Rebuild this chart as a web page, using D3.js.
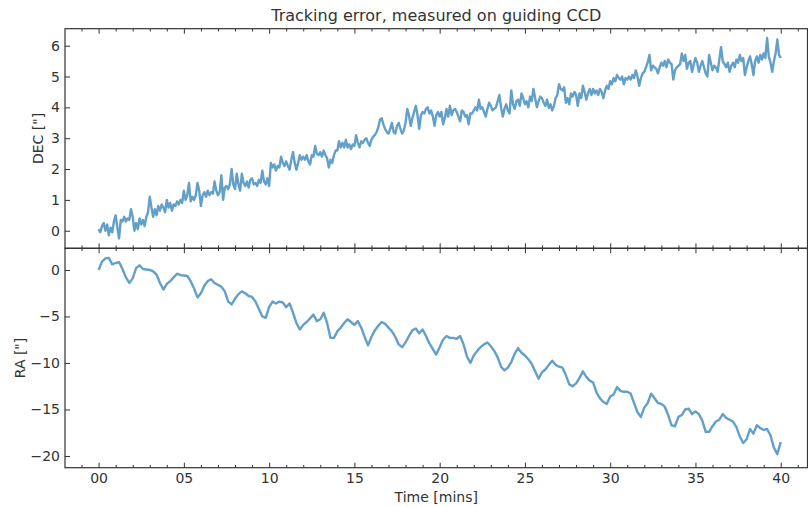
<!DOCTYPE html>
<html>
<head>
<meta charset="utf-8">
<script src="https://cdnjs.cloudflare.com/ajax/libs/d3/7.8.5/d3.min.js"></script>
<style>
    body { margin: 0; background: #fff; }
    svg text { font-family: "DejaVu Sans", sans-serif; fill: #333; }
</style>
</head>
<body>
<svg id="chart" width="808" height="507"></svg>
<script>
// sample spacing in minutes
var decStep = 0.1;
var raStep = 0.2;

// DEC ["], one row per minute (10 samples each), last value at 40.0
var decValues = [
    0.05, -0.05, 0.15, 0.25, 0.0, 0.2, -0.15, 0.1, -0.05, 0.3,
    0.5, 0.1, -0.25, 0.35, 0.3, 0.45, 0.3, 0.4, 0.35, 0.7,
    0.45, 0.0, 0.25, 0.05, 0.4, 0.2, 0.35, 0.15, 0.45, 0.6,
    1.1, 0.75, 0.45, 0.7, 0.5, 0.8, 0.65, 0.85, 0.75, 0.6,
    1.0, 0.75, 0.9, 0.65, 0.85, 0.8, 0.95, 0.85, 1.0, 0.9,
    1.3, 1.0, 1.15, 1.55, 0.95, 1.1, 1.0, 1.15, 1.55, 1.3,
    0.8, 1.15, 1.25, 1.1, 1.3, 1.15, 1.25, 1.2, 1.6, 1.3,
    1.15, 1.25, 1.8, 1.0, 1.4, 1.45, 1.35, 1.5, 2.0, 1.5,
    1.35, 1.85, 1.5, 1.3, 1.85, 1.55, 1.45, 1.6, 1.4, 1.65,
    1.7, 1.5, 1.55, 1.45, 1.65, 1.55, 1.95, 1.6, 1.5, 1.7,
    1.45, 2.2, 2.05, 2.15, 1.95, 2.1, 2.05, 2.4, 2.2, 2.1,
    2.25, 2.1, 1.98, 2.3, 2.55, 2.2, 1.98, 2.2, 2.45, 2.3,
    2.4, 2.3, 2.45, 2.25, 2.15, 2.45, 2.4, 2.75, 2.5, 2.45,
    2.55, 2.4, 2.6, 2.45, 2.35, 2.05, 2.3, 2.2, 2.45, 2.6,
    2.6, 2.9, 2.7, 2.85, 2.7, 2.95, 2.7, 2.8, 2.65, 2.8,
    2.75, 3.1, 2.85, 2.7, 2.9, 2.85, 2.95, 3.0, 2.85, 2.75,
    2.95, 3.05, 3.1, 3.2, 3.35, 3.6, 3.65, 3.45, 3.3, 3.2,
    3.15, 3.3, 3.5, 3.2, 3.15, 3.4, 3.5, 3.3, 3.15, 3.25,
    3.5, 3.95, 3.75, 3.4, 3.65, 3.85, 4.05, 3.75, 3.3, 3.75,
    3.85, 3.8, 3.95, 4.0, 3.8, 3.9, 3.7, 3.4, 3.75, 3.85,
    3.7, 3.85, 3.45, 3.65, 3.95, 3.7, 4.05, 3.75, 3.9, 3.95,
    3.85, 3.7, 3.55, 3.9, 3.85, 3.7, 3.75, 3.45, 3.8, 3.8,
    3.9, 4.0, 3.9, 4.25, 3.95, 4.0, 3.85, 3.7, 3.95, 4.15,
    4.05, 3.9, 3.95, 4.0, 4.2, 4.4, 4.0, 3.7, 3.95, 4.1,
    3.9, 3.8, 4.55, 4.1, 3.95, 4.2, 4.25, 4.05, 4.45, 4.3,
    4.1, 4.2, 4.0, 4.35, 4.2, 4.6, 4.3, 4.0, 4.2, 4.35,
    4.3, 4.15, 4.05, 4.25, 3.98, 4.1, 3.9, 4.05, 4.3, 4.4,
    4.75, 4.6, 4.55, 4.65, 4.15, 4.3, 4.1, 4.45, 4.35, 4.5,
    4.4, 4.05, 4.45, 4.3, 4.7, 4.5, 4.25, 4.45, 4.6, 4.4,
    4.6, 4.45, 4.55, 4.4, 4.6, 4.5, 4.3, 4.55, 4.7, 4.6,
    4.85, 4.75, 4.95, 4.85, 5.05, 4.95, 4.9, 5.0, 4.75, 4.95,
    4.9, 5.0, 4.9, 5.05, 4.95, 5.2, 5.0, 4.7, 4.95, 5.1,
    5.15, 5.3, 5.45, 5.7, 5.2, 5.35, 5.3, 5.25, 5.1, 5.3,
    5.45, 5.35, 5.5, 5.3, 5.55, 5.45, 5.4, 4.9, 5.2, 5.3,
    5.35, 5.4, 5.75, 5.5, 5.7, 5.25, 5.45, 5.5, 5.15, 5.4,
    5.6, 5.45, 5.15, 5.35, 5.5, 5.3, 5.1, 5.0, 5.7, 5.45,
    5.2, 5.35, 5.3, 5.15, 5.55, 5.95, 5.5, 5.4, 5.3, 5.45,
    5.15, 5.35, 5.45, 5.3, 5.55, 5.45, 5.7, 5.5, 5.6, 5.05,
    5.3, 5.5, 5.65, 5.4, 5.05, 5.5, 5.65, 5.45, 5.7, 5.55,
    5.75, 5.6, 6.25, 5.65, 5.45, 5.15, 5.5, 5.75, 6.2, 5.7,
    5.6
];

// RA ["], one row per minute (5 samples each), last value at 40.0
var raValues = [
    0.0, 0.9, 1.25, 1.3, 0.6,
    0.75, 0.85, 0.1, -0.8, -1.4,
    -0.9, 0.2, 0.5, 0.1, 0.05,
    0.0, -0.15, -0.5, -1.4, -2.1,
    -1.5, -1.2, -0.8, -0.4, -0.55,
    -0.6, -0.65, -1.2, -2.0, -2.95,
    -2.5, -1.7, -1.2, -1.0, -1.4,
    -1.6, -1.8, -2.3, -3.4, -3.7,
    -3.1, -2.6, -2.3, -2.5, -2.8,
    -2.9, -3.4, -4.2, -5.0, -5.15,
    -4.0, -3.4, -3.6, -3.4, -3.5,
    -4.0, -3.6, -4.6, -5.7, -6.4,
    -5.9, -5.6, -5.2, -4.8, -5.5,
    -5.3, -4.6, -5.7, -7.3, -7.3,
    -6.6, -6.2, -5.7, -5.3, -5.6,
    -5.9, -5.5, -6.2, -7.2, -8.1,
    -7.2, -6.5, -6.0, -5.6, -5.8,
    -6.2, -6.6, -7.2, -8.0, -8.3,
    -7.8, -7.1, -6.5, -6.3, -6.8,
    -6.4, -7.1, -7.9, -8.5, -9.1,
    -8.3, -7.5, -7.1, -7.3, -7.3,
    -7.4, -7.1, -8.0, -9.3, -10.0,
    -9.2, -8.7, -8.3, -8.0, -7.8,
    -8.2, -8.7, -9.4, -10.4, -10.8,
    -10.5, -9.9, -9.0, -8.4, -8.9,
    -9.2, -9.6, -10.1, -10.9, -11.7,
    -11.0, -10.7, -10.2, -9.75, -10.2,
    -10.4, -10.5, -11.3, -12.3, -12.5,
    -12.2, -11.6, -10.9, -11.5, -11.9,
    -12.1, -13.2, -13.8, -14.2, -14.4,
    -13.6, -13.4, -12.6, -13.0, -13.1,
    -13.1, -13.3, -14.3, -15.3, -15.8,
    -14.8, -14.3, -13.3, -13.8, -14.3,
    -14.4, -14.7, -15.6, -16.7, -16.8,
    -15.8, -15.6, -15.0, -14.9, -15.5,
    -15.2, -15.5, -16.2, -17.4, -17.4,
    -16.8, -16.3, -16.1, -15.5, -15.9,
    -16.1, -16.3, -16.9, -17.9, -18.6,
    -18.2, -17.1, -17.6, -16.7, -17.0,
    -17.2, -17.1, -17.8, -19.1, -19.8,
    -18.5
];

var xTicks = [0, 5, 10, 15, 20, 25, 30, 35, 40];
var xMinorTicks = d3.range(-1, 42).filter(function (d) { return d % 5 !== 0; });
var decTicks = [0, 1, 2, 3, 4, 5, 6];
var raTicks = [0, -5, -10, -15, -20];

var lineColor = "rgba(31,119,180,0.7)";
var axisColor = "#333";
var fontSize = "14px";

var left = 65, right = 807.5;
var top0 = 28.7, mid = 248.3, bottom = 467.7;

var svg = d3.select("#chart");

var x = d3.scaleLinear().domain([-1.97, 41.57]).range([left, right]);
var yDec = d3.scaleLinear().domain([-0.57, 6.551]).range([mid, top0]);
var yRa = d3.scaleLinear().domain([-21.26, 2.33]).range([bottom, mid]);

function styleAxis(g) {
    g.select(".domain").remove();
    g.selectAll(".tick line").attr("stroke", axisColor).attr("stroke-width", 1);
    g.selectAll(".tick text").style("font-size", fontSize).attr("fill", axisColor);
}

function drawPanel(y, yTicks, values, step, yLabel, labelX, showX) {
    var yBottom = y.range()[0];
    var yTop = y.range()[1];
    var g = svg.append("g");

    var line = d3.line()
        .x(function (d, i) { return x(i * step); })
        .y(function (d) { return y(d); });
    g.append("path").datum(values).attr("d", line)
        .attr("fill", "none").attr("stroke", lineColor)
        .attr("stroke-width", 2.4).attr("stroke-linejoin", "round");

    // bottom ticks, pointing inward
    g.append("g").attr("transform", "translate(0," + yBottom + ")")
        .call(d3.axisBottom(x).tickValues(xTicks).tickSize(-5).tickPadding(5)
            .tickFormat(showX ? d3.format("02d") : ""))
        .call(styleAxis);
    g.append("g").attr("transform", "translate(0," + yBottom + ")")
        .call(d3.axisBottom(x).tickValues(xMinorTicks).tickSize(-2.8).tickFormat(""))
        .call(styleAxis);
    // top ticks
    g.append("g").attr("transform", "translate(0," + yTop + ")")
        .call(d3.axisTop(x).tickValues(xTicks).tickSize(-5).tickFormat(""))
        .call(styleAxis);
    g.append("g").attr("transform", "translate(0," + yTop + ")")
        .call(d3.axisTop(x).tickValues(xMinorTicks).tickSize(-2.8).tickFormat(""))
        .call(styleAxis);
    // left ticks
    g.append("g").attr("transform", "translate(" + left + ",0)")
        .call(d3.axisLeft(y).tickValues(yTicks).tickSize(-5).tickPadding(5)
            .tickFormat(d3.format("d")))
        .call(styleAxis);

    g.append("rect")
        .attr("x", left).attr("y", yTop)
        .attr("width", right - left).attr("height", yBottom - yTop)
        .attr("fill", "none").attr("stroke", axisColor).attr("stroke-width", 1.2);

    g.append("text")
        .attr("transform", "translate(" + labelX + "," + ((yTop + yBottom) / 2) + ") rotate(-90)")
        .attr("text-anchor", "middle")
        .style("font-size", fontSize)
        .text(yLabel);
}

drawPanel(yDec, decTicks, decValues, decStep, "DEC [\"]", 43.3, false);
drawPanel(yRa, raTicks, raValues, raStep, "RA [\"]", 25, true);

svg.append("text")
    .attr("x", (left + right) / 2).attr("y", 21)
    .attr("text-anchor", "middle")
    .style("font-size", "16px")
    .text("Tracking error, measured on guiding CCD");

svg.append("text")
    .attr("x", (left + right) / 2).attr("y", 501.5)
    .attr("text-anchor", "middle")
    .style("font-size", fontSize)
    .text("Time [mins]");
</script>
</body>
</html>
